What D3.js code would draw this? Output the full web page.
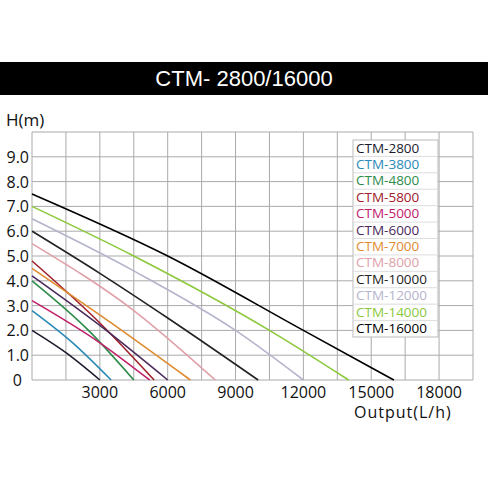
<!DOCTYPE html>
<html><head><meta charset="utf-8">
<script src="https://cdn.jsdelivr.net/npm/d3@7"></script>
<style>body{margin:0;background:#fff}svg{display:block;font-family:"Open Sans",sans-serif}</style>
</head><body>
<svg id="c" width="488" height="488"></svg>
<script>
var names = ["CTM-2800","CTM-3800","CTM-4800","CTM-5800","CTM-5000","CTM-6000","CTM-7000","CTM-8000","CTM-10000","CTM-12000","CTM-14000","CTM-16000"];
var colors = ["#1c1c30","#2a8ab8","#2e8b4a","#a0202a","#c0206a","#4a2a5a","#e08a30","#e0a0a8","#222222","#b4b4cc","#8cc83c","#000000"];
// [flow L/h, head m]
var curves = [
  [[0,2.0],[1500,1.1],[3000,0]],
  [[0,2.8],[1800,1.5],[3500,0]],
  [[0,4.0],[2500,2.0],[4500,0]],
  [[0,4.8],[3000,2.3],[5400,0]],
  [[0,3.2],[3000,1.5],[5200,0]],
  [[0,4.2],[3000,2.2],[6000,0]],
  [[0,4.5],[3500,2.3],[7000,0]],
  [[0,5.5],[4500,2.8],[8100,0]],
  [[0,6.0],[3000,4.3],[6000,2.5],[10000,0]],
  [[0,6.5],[4500,4.4],[9000,2.0],[12000,0]],
  [[0,7.0],[4500,5.0],[10500,2.0],[14000,0]],
  [[0,7.5],[6000,5.0],[12000,2.0],[16000,0]]
];
var yTicks = [0,1,2,3,4,5,6,7,8,9];
var xTicks = [3000,6000,9000,12000,15000,18000];

var svg = d3.select("#c");
var x = d3.scaleLinear().domain([0,19500]).range([32,473]);
var y = d3.scaleLinear().domain([0,10]).range([380,132]);

svg.append("rect").attr("x",0).attr("y",62).attr("width",488).attr("height",33).attr("fill","#000");
svg.append("text").attr("x",244).attr("y",86).attr("text-anchor","middle").attr("fill","#fff")
  .attr("font-family","Liberation Sans, Arial, sans-serif")
  .attr("font-size",22).text("CTM- 2800/16000");

// grid
svg.append("g").selectAll("line").data(d3.range(0,19501,1500)).join("line")
  .attr("x1",d=>x(d)).attr("x2",d=>x(d)).attr("y1",y(10)).attr("y2",y(0))
  .attr("stroke","#aaa").attr("stroke-width",1);
svg.append("g").selectAll("line").data(d3.range(0,10.1,1)).join("line")
  .attr("x1",x(0)).attr("x2",x(19500)).attr("y1",d=>y(d)).attr("y2",d=>y(d))
  .attr("stroke","#aaa").attr("stroke-width",1);

// curves
var line = d3.line().x(d=>x(d[0])).y(d=>y(d[1])).curve(d3.curveMonotoneX);
svg.append("g").selectAll("path").data(curves).join("path")
  .attr("d",line).attr("fill","none").attr("stroke",(d,i)=>colors[i]).attr("stroke-width",1.6);

// tick labels
svg.append("g").selectAll("text").data(yTicks).join("text")
  .attr("x",d=>d?29:22).attr("y",d=>y(d)+6).attr("text-anchor","end")
  .attr("font-size",16).attr("fill","#111").text(d=>d?d.toFixed(1):"0");
svg.append("g").selectAll("text").data(xTicks).join("text")
  .attr("x",d=>x(d)).attr("y",398).attr("text-anchor","middle")
  .attr("font-size",16).attr("fill","#111").text(d=>d);
svg.append("text").attr("x",6).attr("y",126).attr("font-size",17).attr("fill","#111").text("H(m)");
svg.append("text").attr("x",354).attr("y",418).attr("font-size",16).attr("fill","#111")
  .attr("letter-spacing",1).text("Output(L/h)");

// legend
var lg = svg.append("g").attr("transform","translate(353,140)");
lg.append("rect").attr("width",85).attr("height",197).attr("fill","#fff").attr("stroke","#bbb");
lg.selectAll("line").data(d3.range(1,12)).join("line")
  .attr("x1",0).attr("x2",85).attr("y1",d=>d*197/12).attr("y2",d=>d*197/12).attr("stroke","#ddd");
lg.selectAll("text").data(names).join("text")
  .attr("x",3).attr("y",(d,i)=>i*197/12+12.5).attr("font-size",13.5).attr("fill",(d,i)=>colors[i]).text(d=>d);
</script>
</body></html>
